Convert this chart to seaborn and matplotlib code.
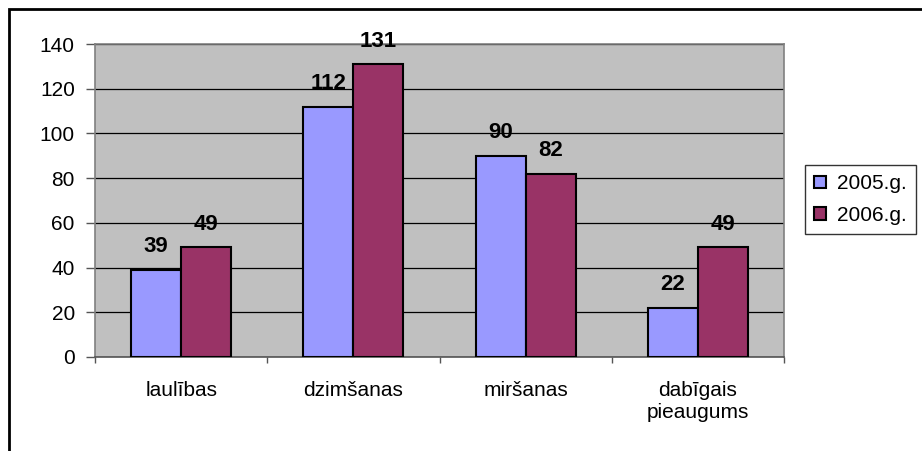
import pandas as pd, numpy as np
import matplotlib
matplotlib.use('Agg')
import matplotlib.pyplot as plt
import seaborn as sns
from matplotlib.patches import Rectangle

sns.set_style('white')
plt.rcParams['font.family'] = ['Liberation Sans', 'DejaVu Sans']
plt.rcParams['text.color'] = 'black'

# Dati
kategorijas = ['laulības', 'dzimšanas', 'miršanas', 'dabīgais\npieaugums']
gadi = ['2005.g.', '2006.g.']
v2005 = [39, 112, 90, 22]
v2006 = [49, 131, 82, 49]
krasas = ['#9999FF', '#993366']

df = pd.DataFrame({
    'kategorija': kategorijas * 2,
    'gads': [gadi[0]] * 4 + [gadi[1]] * 4,
    'vertiba': v2005 + v2006,
})

fig = plt.figure(figsize=(9.22, 4.51), dpi=100)
ax = fig.add_axes([95/922, 1 - 357/451, 689/922, 313/451])
ax.set_facecolor('#C0C0C0')

sns.barplot(data=df, x='kategorija', y='vertiba', hue='gads', order=kategorijas,
            hue_order=gadi, palette=krasas, width=0.58, edgecolor='black',
            linewidth=1.5, saturation=1, ax=ax, legend=True, zorder=3)

# vērtības virs stabiņiem
for cont in ax.containers:
    for r in cont:
        h = r.get_height()
        ax.annotate(f'{h:.0f}', (r.get_x() + r.get_width()/2, h),
                    xytext=(0, 9), textcoords='offset points',
                    ha='center', va='bottom', fontsize=16, fontweight='bold',
                    color='black')

ax.set_ylim(0, 140)
ax.set_xlim(-0.5, 3.5)
ax.set_yticks(range(0, 141, 20))
ax.yaxis.grid(True, color='black', linewidth=0.9)
ax.set_axisbelow(True)
ax.set_xlabel(''); ax.set_ylabel('')
ax.tick_params(axis='y', labelsize=15, labelcolor='black', length=6.5, width=1,
               color='#555555', pad=8, left=True)
ax.tick_params(axis='x', which='major', labelsize=15, labelcolor='black', length=0, pad=17)
ax.set_xticks(np.arange(-0.5, 3.6, 1), minor=True)
ax.tick_params(axis='x', which='minor', length=4.5, width=1, color='#555555', bottom=True)
for s in ax.spines.values():
    s.set_color('#808080'); s.set_linewidth(1.2)
ax.spines['bottom'].set_color('#555555')

ax.get_legend().remove()
h, l = ax.get_legend_handles_labels()
leg = fig.legend(h, l, loc='upper left', bbox_to_anchor=(805/922, 1 - 165/451),
                 fontsize=15, frameon=True, fancybox=False, edgecolor='black',
                 handlelength=0.55, handleheight=0.55, handletextpad=0.55,
                 borderpad=0.45, labelspacing=0.6, borderaxespad=0)
leg.get_frame().set_linewidth(1.0)
for t in leg.get_texts():
    t.set_color('black')

# ārējais rāmis
fig.patches.append(Rectangle((9/922, -0.1), 1.2, 1 - 9/451 + 0.1, transform=fig.transFigure,
                             fill=False, edgecolor='black', linewidth=2))

plt.savefig('out.png', dpi=100)
